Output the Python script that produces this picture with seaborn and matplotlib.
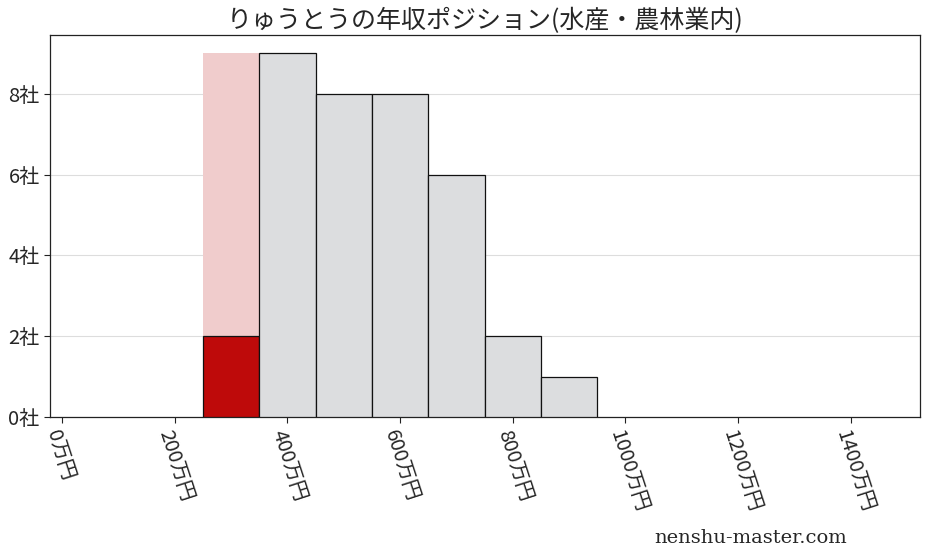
import pandas as pd
import seaborn as sns
import matplotlib.pyplot as plt

# salary bins (万円, bin centres) and company counts
centers = [300, 400, 500, 600, 700, 800, 900]
counts = [2, 9, 8, 8, 6, 2, 1]
highlight_center = 300
highlight_bg = 9
xticks = [0, 200, 400, 600, 800, 1000, 1200, 1400]
yticks = [0, 2, 4, 6, 8]

sns.set_style("white")
plt.rcParams['font.family'] = ['Noto Sans CJK JP', 'DejaVu Sans']

fig = plt.figure(figsize=(9.28, 5.57), dpi=100)
ax = fig.add_axes([0.054, 0.251, 0.937, 0.686])

df = pd.DataFrame({"center": centers, "count": counts})
df["kind"] = ["self" if c == highlight_center else "other" for c in centers]

# pink background column behind the highlighted bin
sns.barplot(x=[highlight_center], y=[highlight_bg], native_scale=True, width=100,
            color="#f0cccc", saturation=1, edgecolor="none", linewidth=0, ax=ax, zorder=2)
sns.barplot(data=df, x="center", y="count", hue="kind", native_scale=True, width=1,
            dodge=False, palette={"self": "#be0a0a", "other": "#dcdddf"}, saturation=1,
            edgecolor="#111111", linewidth=0.9, legend=False, ax=ax, zorder=3)

ax.set_xlim(-21, 1522)
ax.set_ylim(0, 9.45)
ax.set_xticks(xticks)
ax.set_xticklabels([f"{v}万円" for v in xticks], rotation=-72, ha="left",
                   rotation_mode="anchor", fontsize=14.5)
ax.set_yticks(yticks)
ax.set_yticklabels([f"{v}社" for v in yticks], fontsize=14.5)
ax.set_xlabel("")
ax.set_ylabel("")
ax.yaxis.grid(True, color="#dddddd", linewidth=0.8, zorder=0)
ax.set_axisbelow(True)
ax.tick_params(axis="both", length=4, width=0.8, color="#222222", bottom=True, left=True)
for s in ax.spines.values():
    s.set_color("#222222")
    s.set_linewidth(0.9)

ax.set_title("りゅうとうの年収ポジション(水産・農林業内)", fontsize=18, pad=5)
fig.text(0.913, 0.018, "nenshu-master.com", ha="right", va="bottom", fontsize=14,
         family=["DejaVu Serif"])

fig.savefig("out.png", dpi=100)
